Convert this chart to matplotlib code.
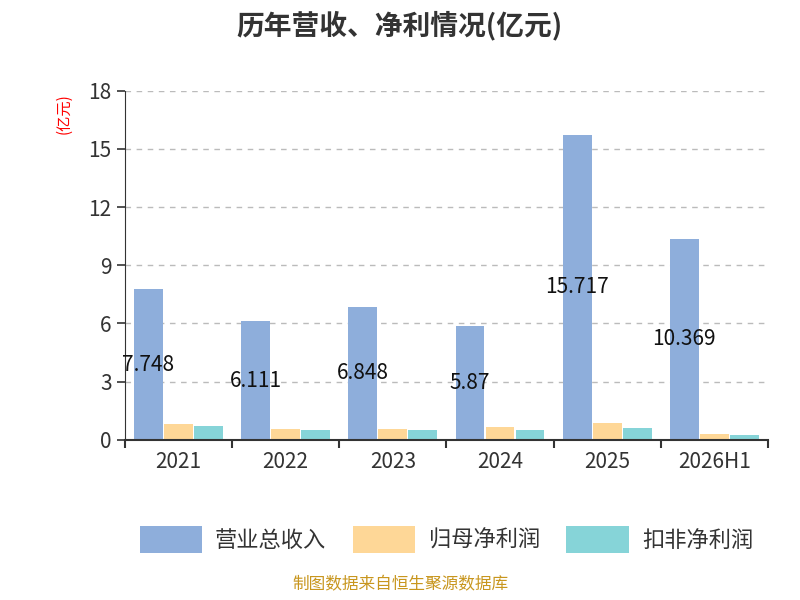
import numpy as np
import matplotlib.pyplot as plt

plt.rcParams['font.family'] = ['Noto Sans CJK SC', 'DejaVu Sans']

years = ["2021", "2022", "2023", "2024", "2025", "2026H1"]
revenue = [7.748, 6.111, 6.848, 5.87, 15.717, 10.369]
net_profit = [0.83, 0.58, 0.57, 0.67, 0.89, 0.28]
deducted_profit = [0.72, 0.52, 0.48, 0.48, 0.62, 0.24]
series_names = ["营业总收入", "归母净利润", "扣非净利润"]
colors = ["#8eaedb", "#fed797", "#86d4d8"]

fig = plt.figure(figsize=(8, 6), dpi=100)
ax = fig.add_axes([0.156, 0.267, 0.804, 0.582])

x = np.arange(len(years))
w = 0.27
gap = 0.28
for i, (vals, c, n) in enumerate(zip([revenue, net_profit, deducted_profit], colors, series_names)):
    ax.bar(x + (i - 1) * gap, vals, width=w, color=c, label=n)

for xi, v in zip(x, revenue):
    ax.text(xi - gap, v / 2, f"{v:g}", ha="center", va="center", fontsize=15, color="#111111")

ax.set_xlim(-0.5, len(years) - 0.5)
ax.set_ylim(0, 18)
ax.set_yticks(range(0, 19, 3))
ax.set_xticks(x)
ax.set_xticklabels(years)
ax.set_xticks(np.arange(len(years) + 1) - 0.5, minor=True)
ax.tick_params(axis="x", which="major", length=0, labelsize=15, colors="#333333", pad=8)
ax.tick_params(axis="x", which="minor", length=6, width=1.5, color="#333333")
ax.tick_params(axis="y", labelsize=15, colors="#333333", length=6, width=1.2)
ax.yaxis.grid(True, linestyle=(0, (4, 4)), color="#bbbbbb", linewidth=1)
ax.set_axisbelow(True)
for s in ["top", "right"]:
    ax.spines[s].set_visible(False)
ax.spines["left"].set_color("#333333")
ax.spines["bottom"].set_color("#333333")
ax.spines["bottom"].set_linewidth(1.5)

fig.text(0.08, 0.81, "(亿元)", color="red", fontsize=11, rotation=90, ha="center", va="center")
fig.text(0.5, 0.958, "历年营收、净利情况(亿元)", fontsize=20, fontweight="bold", color="#333333", ha="center", va="center")
leg = ax.legend(loc="upper center", bbox_to_anchor=(0.5, -0.19), ncol=3, frameon=False, fontsize=16,
                handlelength=2.8, handleheight=1.5, handletextpad=0.6, columnspacing=1.2,
                labelcolor="#333333")
fig.text(0.5, 0.012, "制图数据来自恒生聚源数据库", color="#c8961e", fontsize=12, ha="center", va="bottom")

fig.savefig("out.png")
